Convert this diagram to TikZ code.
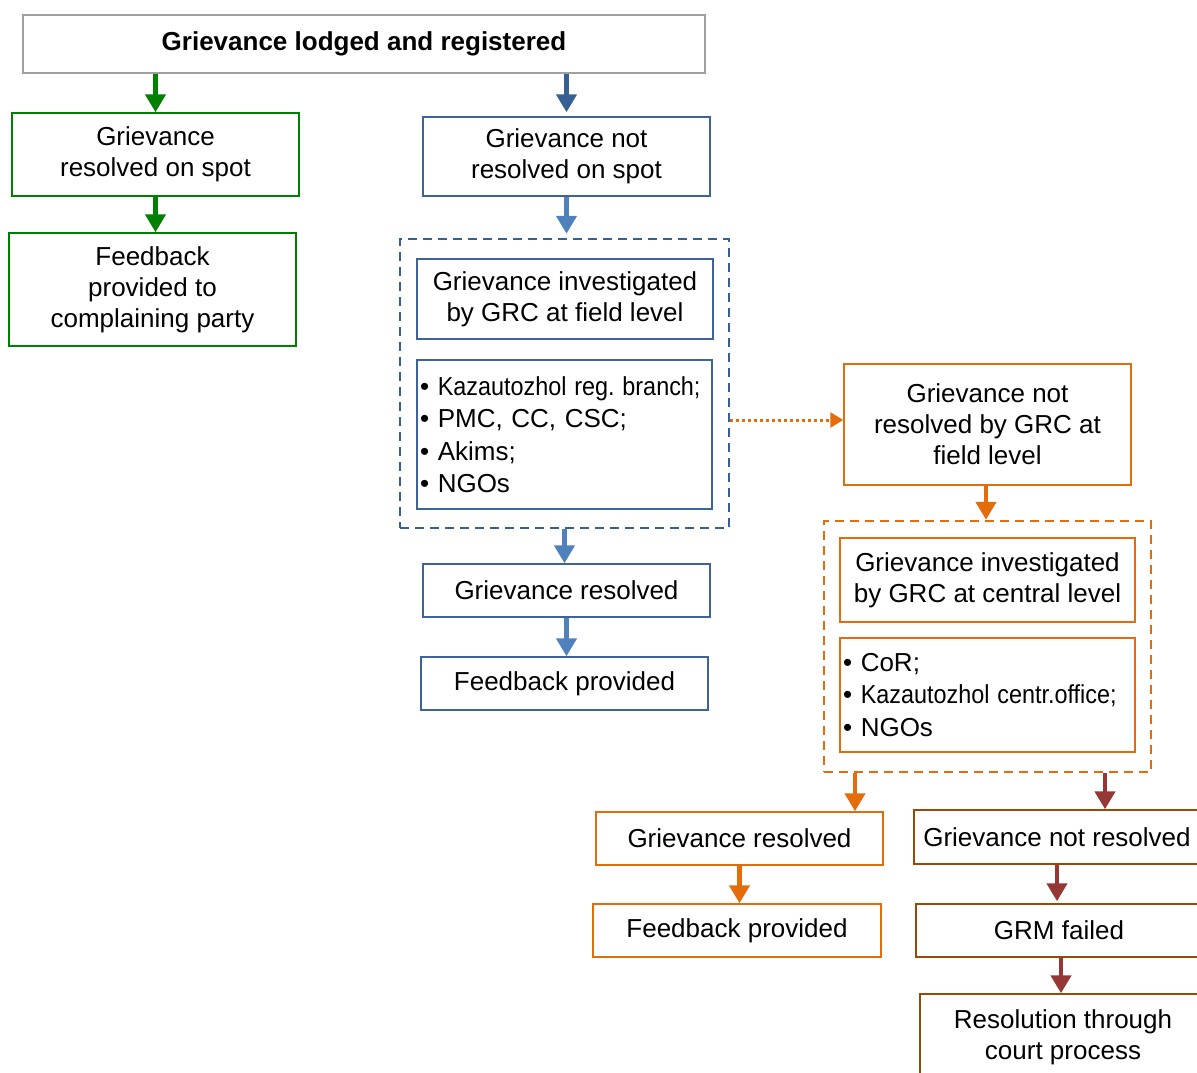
\documentclass[tikz,border=0pt]{standalone}
\usepackage{fontspec}
\setmainfont{Liberation Sans}
\usetikzlibrary{arrows.meta}

\definecolor{grn}{RGB}{0,128,0}
\definecolor{greyb}{RGB}{160,160,160}
\definecolor{bdark}{RGB}{55,96,146}
\definecolor{bbox}{RGB}{60,100,155}
\definecolor{blight}{RGB}{79,129,189}
\definecolor{orng}{RGB}{228,108,10}
\definecolor{dred}{RGB}{149,55,53}
\definecolor{brwn}{RGB}{152,72,7}

\begin{document}
\begin{tikzpicture}[x=1pt,y=-1pt,
    box/.style={draw,line width=1.5pt,align=center,inner sep=0pt,
        font=\fontsize{26}{31}\selectfont},
    listbox/.style={box,align=left,inner xsep=3pt,text width=289pt,
        font=\fontsize{26}{32.5}\selectfont},
    dashbox/.style={draw,line width=2.5pt,dash pattern=on 9pt off 6pt},
    arr/.style={line width=4.5pt,-{Triangle[length=18pt,width=20pt]}},
    dotarr/.style={draw=orng,line width=3pt,dash pattern=on 3pt off 3pt,
        -{Triangle[length=13pt,width=15pt]}}]
    \useasboundingbox (0,0) rectangle (1197,1072);
    \clip (0,0) rectangle (1197,1072);

    % top
    \node[box,draw=greyb,minimum width=682pt,minimum height=58pt,font=\fontsize{26}{31}\selectfont\bfseries] (top) at (364,44) {Grievance lodged and registered};

    % resolved on spot
    \node[box,draw=grn,minimum width=287pt,minimum height=83pt] (spot) at (155.5,154.5) {Grievance\\resolved on spot};
    \node[box,draw=grn,minimum width=287pt,minimum height=113pt] (spotfb) at (152.5,289.5) {Feedback\\provided to\\complaining party};

    % field level
    \node[box,draw=bbox,minimum width=287pt,minimum height=79pt] (notspot) at (566.5,156.5) {Grievance not\\resolved on spot};
    \node[dashbox,draw=bdark,minimum width=329pt,minimum height=289pt] (field) at (564.5,383.5) {};
    \node[box,draw=bbox,minimum width=296pt,minimum height=80pt] (fieldinv) at (565,299) {Grievance investigated\\by GRC at field level};
    \node[listbox,draw=bbox,minimum height=149pt] (fieldlist) at (564.5,434.5) {•~\scalebox{0.9}[1]{Kazautozhol reg.\ branch;}\\• PMC, CC, CSC;\\• Akims;\\• NGOs};
    \node[box,draw=bbox,minimum width=287pt,minimum height=53pt] (fieldres) at (566.5,590.5) {Grievance resolved};
    \node[box,draw=bbox,minimum width=287pt,minimum height=53pt] (fieldfb) at (564.5,683.5) {Feedback provided};

    % central level
    \node[box,draw=orng,minimum width=287pt,minimum height=121pt] (notfield) at (987.5,424.5) {Grievance not\\resolved by GRC at\\field level};
    \node[dashbox,draw=orng,minimum width=327pt,minimum height=251pt] (central) at (987.5,646.5) {};
    \node[box,draw=orng,minimum width=295pt,minimum height=84pt] (centralinv) at (987.5,580) {Grievance investigated\\by GRC at central level};
    \node[listbox,draw=orng,minimum height=114pt] (centrallist) at (987.5,695) {• CoR;\\•~\scalebox{0.9}[1]{Kazautozhol centr.office;}\\• NGOs};
    \node[box,draw=orng,minimum width=287pt,minimum height=53pt] (centralres) at (739.5,838.5) {Grievance resolved};
    \node[box,draw=orng,minimum width=288pt,minimum height=53pt] (centralfb) at (737,930.5) {Feedback provided};

    % not resolved
    \node[box,draw=brwn,minimum width=286pt,minimum height=54pt] (notres) at (1057,837) {Grievance not resolved};
    \node[box,draw=brwn,minimum width=286pt,minimum height=53pt] (failed) at (1059,930.5) {GRM failed};
    \node[box,draw=brwn,minimum width=286pt,minimum height=86pt] (court) at (1063,1037) {Resolution through\\court process};

    % arrows
    \draw[arr,grn] (top.south -| spot.north) -- (spot.north);
    \draw[arr,grn] (spot.south) -- (spot.south |- spotfb.north);
    \draw[arr,bdark] (top.south -| notspot.north) -- ([yshift=4pt]notspot.north);
    \draw[arr,blight] (notspot.south) -- ([yshift=4pt]notspot.south |- field.north);
    \draw[arr,blight] (field.south) -- (field.south |- fieldres.north);
    \draw[arr,blight] (fieldres.south) -- (fieldres.south |- fieldfb.north);
    \draw[dotarr] ([yshift=4.5pt]field.east |- notfield.west) -- ([yshift=4.5pt]notfield.west);
    \draw[arr,orng] ([xshift=-1.5pt]notfield.south) -- ([xshift=-1.5pt]notfield.south |- central.north);
    \draw[arr,orng] ([xshift=115.5pt]centralres.north |- central.south) -- ([xshift=115.5pt]centralres.north);
    \draw[arr,orng] (centralres.south) -- (centralres.south |- centralfb.north);
    \draw[arr,dred] ([xshift=48pt]notres.north |- central.south) -- ([xshift=48pt]notres.north);
    \draw[arr,dred] (notres.south) -- ([yshift=2pt]notres.south |- failed.north);
    \draw[arr,dred] ([xshift=2pt]failed.south) -- ([xshift=2pt]failed.south |- court.north);
\end{tikzpicture}
\end{document}
